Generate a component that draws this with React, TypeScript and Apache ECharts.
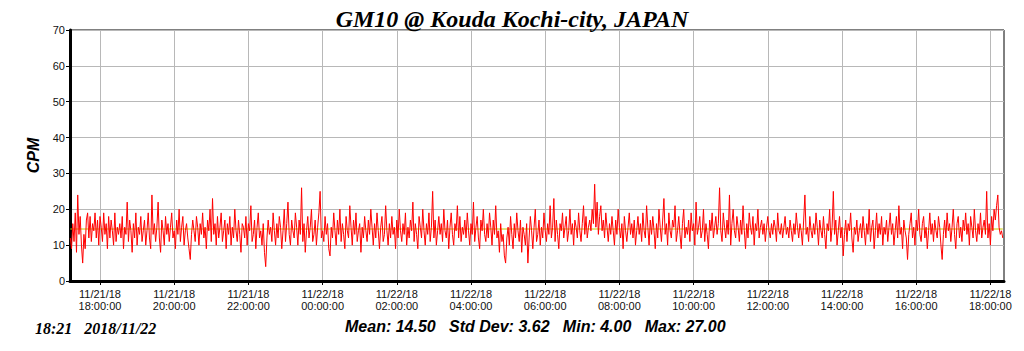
import React, { useEffect, useRef } from "react";
import * as echarts from "echarts";

// Time axis: minutes relative to 11/21/18 18:00:00
const startMinute = -48; // first sample 11/21/18 17:12
const stepMinutes = 2;
const axisMinMinute = -48.5;
const axisMaxMinute = 1462;
const tickMinutes = [0, 120, 240, 360, 480, 600, 720, 840, 960, 1080, 1200, 1320, 1440];
const tickLabels = [
  "11/21/18\n18:00:00", "11/21/18\n20:00:00", "11/21/18\n22:00:00",
  "11/22/18\n00:00:00", "11/22/18\n02:00:00", "11/22/18\n04:00:00",
  "11/22/18\n06:00:00", "11/22/18\n08:00:00", "11/22/18\n10:00:00",
  "11/22/18\n12:00:00", "11/22/18\n14:00:00", "11/22/18\n16:00:00",
  "11/22/18\n18:00:00",
];

const cpm = [
  12, 9, 16, 11, 19, 8, 24, 13, 18, 10, 5, 13, 9, 17, 19, 12, 18, 11, 16, 14,
  19, 12, 17, 10, 18, 15, 11, 19, 13, 16, 9, 18, 12, 17, 14, 10, 19, 11, 15, 13,
  16, 12, 18, 9, 15, 13, 22, 11, 17, 14, 8, 16, 12, 19, 10, 15, 13, 18, 11, 14,
  17, 10, 14, 19, 12, 9, 24, 13, 16, 11, 15, 22, 12, 8, 17, 14, 10, 18, 13, 16,
  11, 15, 19, 12, 14, 9, 17, 13, 20, 11, 15, 18, 10, 14, 16, 12, 9, 6, 13, 17,
  14, 11, 18, 15, 10, 16, 13, 19, 12, 15, 9, 17, 14, 20, 11, 23, 13, 16, 10, 18,
  12, 15, 19, 11, 14, 17, 9, 16, 13, 18, 10, 15, 12, 20, 14, 11, 17, 13, 8, 16,
  15, 12, 18, 10, 16, 14, 21, 11, 13, 17, 9, 15, 19, 12, 14, 10, 16, 8, 4, 12,
  17, 13, 15, 11, 19, 14, 10, 16, 12, 18, 15, 9, 14, 20, 11, 16, 22, 13, 10, 17,
  14, 12, 19, 15, 10, 17, 13, 26, 11, 16, 8, 14, 18, 12, 15, 20, 11, 13, 17, 10,
  15, 19, 25, 12, 14, 11, 18, 13, 16, 9, 7, 15, 12, 19, 14, 10, 17, 13, 20, 11,
  16, 13, 9, 18, 14, 12, 21, 15, 10, 17, 13, 19, 11, 14, 16, 8, 15, 12, 18, 14,
  11, 17, 13, 20, 15, 10, 16, 12, 19, 14, 9, 15, 18, 11, 13, 21, 14, 10, 16, 12,
  18, 13, 15, 9, 17, 12, 20, 14, 11, 16, 13, 19, 10, 15, 12, 17, 14, 22, 11, 16,
  13, 9, 18, 15, 12, 20, 14, 10, 16, 13, 19, 11, 15, 25, 12, 17, 10, 14, 18, 13,
  16, 11, 20, 14, 12, 17, 9, 15, 19, 13, 10, 16, 14, 21, 12, 18, 11, 15, 13, 17,
  12, 19, 14, 10, 16, 13, 22, 11, 15, 18, 12, 9, 17, 14, 20, 13, 11, 16, 12, 19,
  15, 10, 17, 13, 21, 12, 14, 8, 16, 11, 13, 7, 5, 12, 15, 10, 18, 13, 9, 16,
  12, 19, 14, 11, 17, 8, 15, 13, 10, 16, 5, 12, 18, 14, 9, 15, 20, 11, 13, 17,
  10, 15, 12, 19, 14, 11, 16, 13, 21, 12, 15, 23, 11, 17, 13, 9, 16, 14, 19, 12,
  15, 18, 11, 14, 20, 13, 16, 10, 17, 15, 12, 19, 14, 11, 16, 21, 13, 18, 12, 15,
  17, 14, 20, 16, 27, 15, 22, 13, 18, 21, 14, 17, 12, 19, 15, 11, 16, 13, 18, 14,
  10, 17, 13, 20, 15, 12, 16, 9, 18, 14, 11, 15, 19, 13, 16, 12, 17, 10, 14, 18,
  13, 16, 11, 19, 14, 12, 21, 15, 10, 17, 13, 18, 14, 9, 16, 12, 20, 15, 11, 17,
  23, 13, 16, 10, 19, 14, 12, 17, 15, 21, 11, 14, 18, 13, 9, 16, 20, 12, 15, 13,
  17, 11, 19, 14, 16, 10, 22, 13, 15, 18, 12, 14, 20, 11, 16, 13, 9, 17, 14, 19,
  12, 15, 18, 13, 16, 26, 14, 11, 19, 15, 12, 17, 13, 24, 10, 16, 20, 14, 12, 18,
  15, 11, 17, 13, 21, 14, 9, 16, 12, 19, 15, 13, 18, 10, 16, 14, 20, 12, 15, 17,
  13, 16, 11, 15, 18, 14, 12, 16, 13, 17, 15, 11, 19, 14, 13, 16, 12, 15, 18, 13,
  15, 12, 17, 14, 11, 16, 13, 19, 15, 12, 16, 14, 10, 17, 24, 13, 15, 11, 18, 14,
  12, 16, 13, 19, 15, 10, 17, 14, 12, 18, 13, 9, 16, 14, 20, 11, 15, 25, 13, 17,
  10, 14, 18, 12, 15, 7, 13, 17, 11, 16, 14, 19, 12, 8, 15, 13, 17, 11, 14, 16,
  12, 18, 14, 10, 16, 13, 20, 11, 15, 17, 9, 14, 19, 12, 16, 13, 18, 10, 15, 13,
  17, 11, 15, 19, 13, 16, 10, 14, 18, 12, 21, 13, 15, 9, 17, 14, 12, 6, 13, 16,
  19, 12, 15, 10, 17, 14, 20, 13, 11, 16, 18, 12, 15, 9, 14, 19, 13, 16, 11, 17,
  14, 12, 18, 15, 10, 6, 13, 17, 12, 19, 14, 16, 11, 15, 20, 13, 9, 16, 18, 12,
  15, 11, 17, 14, 19, 13, 16, 10, 18, 15, 12, 20, 14, 11, 16, 13, 19, 12, 15, 17,
  13, 25, 12, 16, 10, 18, 14, 20, 17, 21, 24, 15, 13, 14, 12,
];

const meanValue = 14.5;
const titleText = "GM10 @ Kouda Kochi-city, JAPAN";
const statsText = "Mean: 14.50   Std Dev: 3.62   Min: 4.00   Max: 27.00";
const stampText = "18:21   2018/11/22";

export default function App() {
  const ref = useRef<HTMLDivElement>(null);
  useEffect(() => {
    if (!ref.current) return;
    const chart = echarts.init(ref.current, null, { renderer: "svg" });
    const seriesData = cpm.map((v, i) => [startMinute + i * stepMinutes, v]);
    const meanData = [
      [startMinute, meanValue],
      [startMinute + (cpm.length - 1) * stepMinutes, meanValue],
    ];
    chart.setOption({
      animation: false,
      backgroundColor: "#ffffff",
      title: {
        text: titleText,
        left: "center",
        top: 2,
        textStyle: {
          fontFamily: "Liberation Serif",
          fontStyle: "italic",
          fontWeight: "bold",
          fontSize: 24,
          color: "#000",
        },
      },
      grid: {
        left: 70,
        right: 20,
        top: 30,
        bottom: 70,
        show: true,
        borderColor: "#000",
        borderWidth: 1,
        backgroundColor: "transparent",
      },
      xAxis: {
        type: "value",
        min: axisMinMinute,
        max: axisMaxMinute,
        axisLine: { show: true, onZero: false, lineStyle: { color: "#000", width: 3 } },
        axisTick: {
          show: true,
          length: 4,
          customValues: tickMinutes,
          lineStyle: { color: "#000" },
        },
        axisLabel: {
          customValues: tickMinutes,
          formatter: (v: number) => tickLabels[tickMinutes.indexOf(Math.round(v))] ?? "",
          fontFamily: "Liberation Sans",
          fontSize: 11,
          lineHeight: 12,
          color: "#111",
          margin: 7,
        },
        splitLine: { show: true, lineStyle: { color: "#b8b8b8", width: 1 } },
      },
      yAxis: {
        type: "value",
        min: 0,
        max: 70,
        interval: 10,
        name: "CPM",
        nameLocation: "middle",
        nameGap: 27,
        nameTextStyle: {
          fontFamily: "Liberation Sans",
          fontStyle: "italic",
          fontWeight: "bold",
          fontSize: 16,
          color: "#000",
        },
        axisLine: { show: true, onZero: false, lineStyle: { color: "#000", width: 3 } },
        axisTick: { show: true, length: 4, lineStyle: { color: "#000" } },
        axisLabel: {
          fontFamily: "Liberation Sans",
          fontSize: 11,
          color: "#111",
          margin: 5,
        },
        splitLine: { show: true, lineStyle: { color: "#b8b8b8", width: 1 } },
      },
      series: [
        {
          type: "line",
          data: meanData,
          symbol: "none",
          z: 1,
          lineStyle: { color: "#c8c800", width: 1 },
          silent: true,
        },
        {
          type: "line",
          data: seriesData,
          symbol: "none",
          z: 2,
          lineStyle: { color: "#ff0000", width: 1 },
          silent: true,
        },
      ],
      graphic: [
        {
          type: "text",
          left: 345,
          top: 318,
          style: {
            text: statsText,
            font: "italic bold 16px 'Liberation Sans'",
            fill: "#000",
          },
        },
        {
          type: "text",
          left: 35,
          top: 320,
          style: {
            text: stampText,
            font: "italic bold 16px 'Liberation Serif'",
            fill: "#000",
          },
        },
      ],
    });
    return () => chart.dispose();
  }, []);
  return (
    <div
      ref={ref}
      style={{ position: "absolute", left: 0, top: 0, width: 1024, height: 351 }}
    />
  );
}
